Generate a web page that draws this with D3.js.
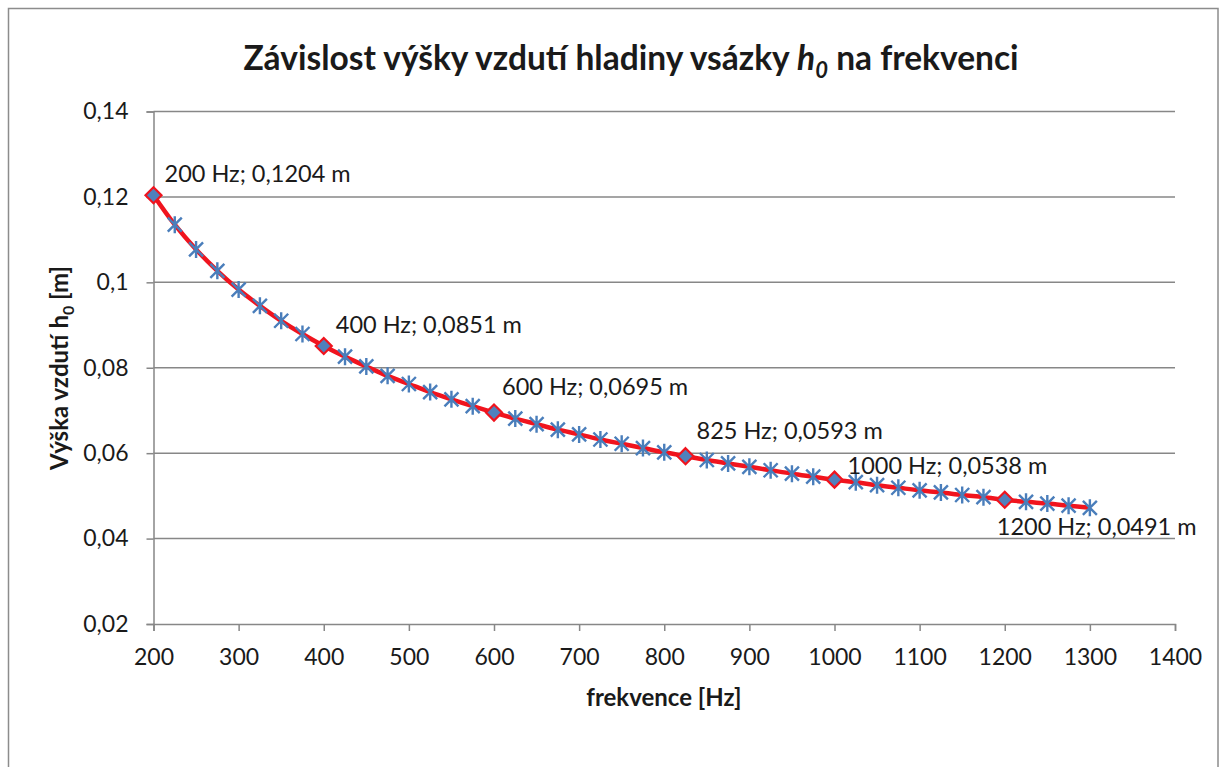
<!DOCTYPE html>
<html><head><meta charset="utf-8">
<script src="https://cdn.jsdelivr.net/npm/d3@7"></script>
<style>body{margin:0;background:#fff}svg text{font-family:Lato,"Open Sans",sans-serif;fill:#1a1a1a}</style>
</head><body><svg id="c" width="1223" height="767"></svg>
<script>
const freq = [200,225,250,275,300,325,350,375,400,425,450,475,500,525,550,575,600,625,650,675,700,725,750,775,800,825,850,875,900,925,950,975,1000,1025,1050,1075,1100,1125,1150,1175,1200,1225,1250,1275,1300];
const height0 = [0.1204,0.1135,0.1077,0.1027,0.0983,0.0945,0.0910,0.0879,0.0851,0.0826,0.0803,0.0781,0.0762,0.0743,0.0726,0.0710,0.0695,0.0681,0.0668,0.0655,0.0644,0.0632,0.0622,0.0612,0.0602,0.0593,0.0584,0.0576,0.0568,0.0560,0.0552,0.0545,0.0538,0.0532,0.0525,0.0519,0.0513,0.0508,0.0502,0.0497,0.0491,0.0486,0.0482,0.0477,0.0472];
const labelledFreq = [200,400,600,825,1000,1200];
const labelText = ["200 Hz; 0,1204 m","400 Hz; 0,0851 m","600 Hz; 0,0695 m","825 Hz; 0,0593 m","1000 Hz; 0,0538 m","1200 Hz; 0,0491 m"];
const xTicks = [200,300,400,500,600,700,800,900,1000,1100,1200,1300,1400];
const yTicks = [0.02,0.04,0.06,0.08,0.10,0.12,0.14];
const yTickLabels = ["0,02","0,04","0,06","0,08","0,1","0,12","0,14"];

const svg = d3.select("#c");
svg.append("rect").attr("x",8.5).attr("y",8.5).attr("width",1209.5).attr("height",780)
  .attr("fill","#fff").attr("stroke","#8c8c8c").attr("stroke-width",1.5);

const L=153.5,R=1175,T=111.5,B=624;
const x = d3.scaleLinear().domain([200,1400]).range([L,R]);
const y = d3.scaleLinear().domain([0.02,0.14]).range([B,T]);
const grid="#878787";

svg.append("g").selectAll("line").data(yTicks.slice(1)).join("line")
  .attr("x1",L).attr("x2",R).attr("y1",d=>y(d)).attr("y2",d=>y(d))
  .attr("stroke",grid).attr("stroke-width",1.5);

const yAxis = d3.axisLeft(y).tickValues(yTicks).tickSize(7).tickPadding(18)
  .tickFormat((d,i)=>yTickLabels[i]);
const gy = svg.append("g").attr("transform",`translate(${L},0)`).call(yAxis);
gy.select(".domain").attr("stroke",grid).attr("stroke-width",1.5);
gy.selectAll(".tick line").attr("stroke",grid).attr("stroke-width",1.5);
gy.selectAll(".tick text").attr("font-size",23).attr("font-family","Lato").attr("fill","#1a1a1a");

const xAxis = d3.axisBottom(x).tickValues(xTicks).tickSize(7).tickPadding(18).tickFormat(d3.format("d"));
const gx = svg.append("g").attr("transform",`translate(0,${B})`).call(xAxis);
gx.select(".domain").attr("stroke",grid).attr("stroke-width",1.5);
gx.selectAll(".tick line").attr("stroke",grid).attr("stroke-width",1.5);
gx.selectAll(".tick text").attr("font-size",23).attr("font-family","Lato").attr("fill","#1a1a1a");

const data = freq.map((f,i)=>({f,h:height0[i]}));
svg.append("path").datum(data)
  .attr("d",d3.line().x(d=>x(d.f)).y(d=>y(d.h)).curve(d3.curveCatmullRom))
  .attr("fill","none").attr("stroke","#f0141e").attr("stroke-width",4.5);

const star = "M-7,-7L7,7M-7,7L7,-7M0,-8.5L0,8.5";
svg.append("g").selectAll("path").data(data.filter(d=>!labelledFreq.includes(d.f))).join("path")
  .attr("transform",d=>`translate(${x(d.f)},${y(d.h)})`)
  .attr("d",star).attr("stroke","#4a7ebb").attr("stroke-width",2.4).attr("fill","none");

svg.append("g").selectAll("path").data(data.filter(d=>labelledFreq.includes(d.f))).join("path")
  .attr("transform",d=>`translate(${x(d.f)},${y(d.h)})`)
  .attr("d","M0,-8L8,0L0,8L-8,0Z").attr("fill","#4f81bd").attr("stroke","#f0141e").attr("stroke-width",2.2);

const offs = [[11,-13],[12,-13],[8,-18],[11,-17],[13,-6],[-8,35]];
labelledFreq.forEach((f,i)=>{
  const d = data.find(e=>e.f===f);
  svg.append("text").attr("x",x(f)+offs[i][0]).attr("y",y(d.h)+offs[i][1])
    .attr("font-size",23.5).text(labelText[i]);
});

const t = svg.append("text").attr("x",631).attr("y",70).attr("text-anchor","middle")
  .attr("font-size",33.5).attr("font-weight","bold");
t.append("tspan").text("Závislost výšky vzdutí hladiny vsázky ");
t.append("tspan").attr("font-style","italic").text("h");
t.append("tspan").attr("font-style","italic").attr("font-size",22).attr("dy",8).text("0");
t.append("tspan").attr("dy",-8).text(" na frekvenci");

svg.append("text").attr("x",664).attr("y",706).attr("text-anchor","middle")
  .attr("font-size",24).attr("font-weight","bold").text("frekvence [Hz]");
const yt = svg.append("text").attr("transform","translate(68,368) rotate(-90)").attr("text-anchor","middle")
  .attr("font-size",24).attr("font-weight","bold");
yt.append("tspan").text("Výška vzdutí h");
yt.append("tspan").attr("font-size",16).attr("dy",6).text("0");
yt.append("tspan").attr("dy",-6).text(" [m]");
</script></body></html>
